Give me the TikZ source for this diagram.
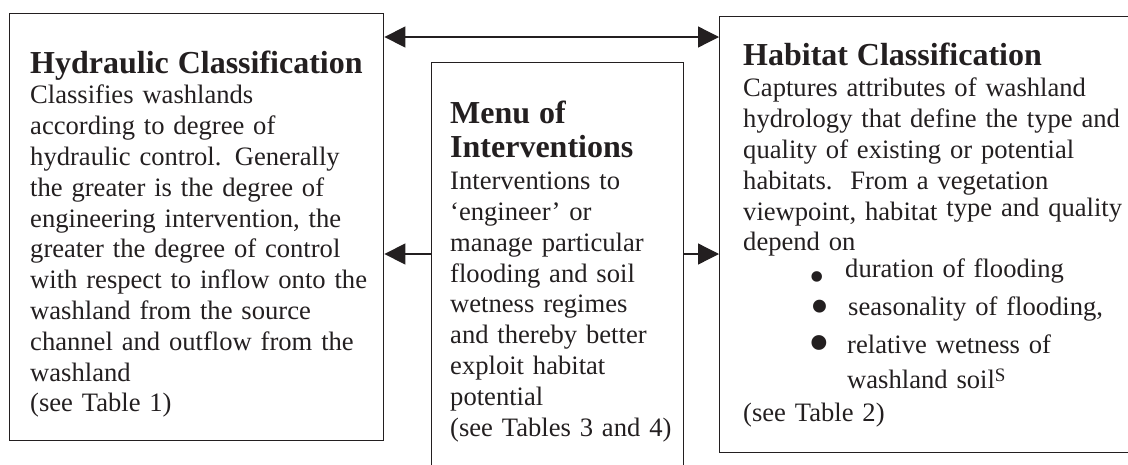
\documentclass[tikz,border=0pt]{standalone}
\usepackage{fontspec}
\setmainfont{Liberation Serif}
\usetikzlibrary{positioning,arrows.meta}
\definecolor{ink}{RGB}{35,31,32}
\begin{document}
\begin{tikzpicture}[x=1pt, y=-1pt, >={Triangle[length=21pt,width=21pt]},
    panel/.style={draw=ink, line width=1.4pt, rectangle, anchor=north west, inner sep=0pt},
    textblock/.style={anchor=base west, inner sep=0pt, text=ink, text width=400pt, align=left, font=\fontsize{26.6}{30.8}\selectfont},
    link/.style={draw=ink, line width=1.3pt}]
  \useasboundingbox (0,0) rectangle (1128,464);
  \clip (0,0) rectangle (1128,464);

  \node (hydraulic) [panel, minimum width=374pt, minimum height=427pt] at (9,13) {};
  \node (menu) [panel, minimum width=252pt, minimum height=440pt] at (431,62) {};
  \node (habitat) [panel, minimum width=440pt, minimum height=436pt] at (719,16) {};

  \node (hydraulic_text) [textblock] at (30,73) {{\fontsize{32}{30.8}\selectfont\bfseries Hydraulic Classification}\\
    Classifies washlands\\ according to degree of\\ hydraulic control. Generally\\ the greater is the degree of\\
    engineering intervention, the\\ greater the degree of control\\ with respect to inflow onto the\\
    washland from the source\\ channel and outflow from the\\ washland\\ (see Table 1)};
  \node (menu_text) [textblock] at (450,123) {{\fontsize{32}{30.8}\selectfont\bfseries Menu of}\\[4pt]
    {\fontsize{32}{30.8}\selectfont\bfseries Interventions}\\[1pt]
    Interventions to\\ ‘engineer’ or\\ manage particular\\ flooding and soil\\ wetness regimes\\
    and thereby better\\ exploit habitat\\ potential\\ (see Tables 3 and 4)};
  \node (habitat_text) [textblock] at (743,65) {{\fontsize{32}{30.8}\selectfont\bfseries Habitat Classification}\\[1pt]
    Captures attributes of washland\\ hydrology that define the type and\\ quality of existing or potential\\
    habitats.\ \ From a vegetation\\ viewpoint, habitat \raisebox{4pt}{type and quality}\\ depend on\\[-4pt]
    \hspace*{74pt}\makebox[0pt]{\smash{\raisebox{-14pt}{\fontsize{44}{44}\selectfont\textbullet}}}\hspace*{28pt}duration of flooding\\[7pt]
    \hspace*{77pt}\makebox[0pt]{\smash{\raisebox{-9.5pt}{\fontsize{54}{54}\selectfont\textbullet}}}\hspace*{28pt}seasonality of flooding,\\[7pt]
    \hspace*{76pt}\makebox[0pt]{\smash{\raisebox{-10pt}{\fontsize{62}{62}\selectfont\textbullet}}}\hspace*{28pt}relative wetness of\\[4pt]
    \hspace*{104pt}washland soil\raisebox{7pt}{\fontsize{19}{19}\selectfont S}\\[3pt]
    (see Table 2)};

  \coordinate (top_link) at ([yshift=-24pt]hydraulic.north east);
  \coordinate (mid_link) at ([yshift=-192pt]menu.north west);
  \draw[link, <->] (top_link) -- (top_link -| habitat.west);
  \draw[link, ->] (mid_link) -- (mid_link -| hydraulic.east);
  \draw[link, ->] (mid_link -| menu.east) -- (mid_link -| habitat.west);
\end{tikzpicture}
\end{document}
